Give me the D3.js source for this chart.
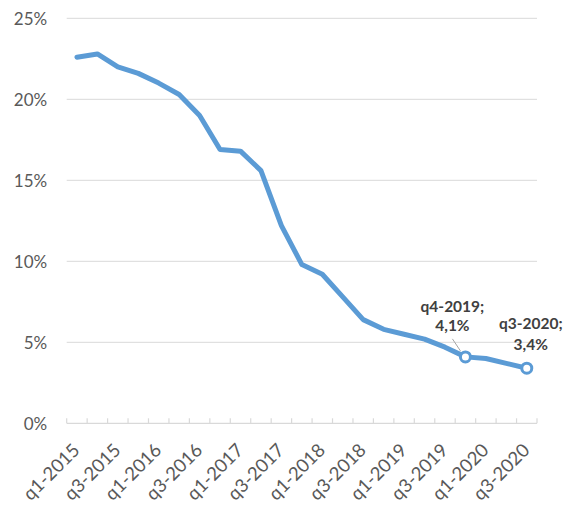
<!DOCTYPE html>
<html>
<head>
<meta charset="utf-8">
<script src="https://cdn.jsdelivr.net/npm/d3@7/dist/d3.min.js"></script>
<style>
  html, body { margin: 0; padding: 0; background: #fff; }
  svg { display: block; }
  text { font-family: Lato, "Open Sans", sans-serif; }
</style>
</head>
<body>
<div id="chart"></div>
<script>
// Quarterly share, q1-2015 .. q3-2020
const quarters = [
  "q1-2015", "q2-2015", "q3-2015", "q4-2015",
  "q1-2016", "q2-2016", "q3-2016", "q4-2016",
  "q1-2017", "q2-2017", "q3-2017", "q4-2017",
  "q1-2018", "q2-2018", "q3-2018", "q4-2018",
  "q1-2019", "q2-2019", "q3-2019", "q4-2019",
  "q1-2020", "q2-2020", "q3-2020"
];
const shares = [
  22.6, 22.8, 22.0, 21.6,
  21.0, 20.3, 19.0, 16.9,
  16.8, 15.6, 12.2, 9.8,
  9.2, 7.8, 6.4, 5.8,
  5.5, 5.2, 4.7, 4.1,
  4.0, 3.7, 3.4
];
const yTicks = [0, 5, 10, 15, 20, 25];
// every other quarter gets a label on the category axis
const xTickLabels = quarters.filter((q, i) => i % 2 === 0);
// highlighted points with a data label
const labelled = ["q4-2019", "q3-2020"];

const W = 571, H = 508;
const plotLeft = 66.7, plotRight = 537, plotTop = 18.3, plotBottom = 423.3;
const blue = "#5b9bd5";

const svg = d3.select("#chart").append("svg")
  .attr("width", W).attr("height", H);

const x = d3.scaleBand().domain(quarters).range([plotLeft, plotRight]).paddingInner(0).paddingOuter(0);
const y = d3.scaleLinear().domain([0, 25]).range([plotBottom, plotTop]);
const cx = q => x(q) + x.bandwidth() / 2;

// horizontal gridlines
svg.append("g").selectAll("line")
  .data(yTicks.filter(t => t > 0))
  .join("line")
  .attr("x1", plotLeft).attr("x2", plotRight)
  .attr("y1", d => y(d)).attr("y2", d => y(d))
  .attr("stroke", "#d9d9d9").attr("stroke-width", 1);

// value axis labels
const yAxis = d3.axisLeft(y).tickValues(yTicks).tickFormat(d => d + "%").tickSize(0).tickPadding(0);
const gy = svg.append("g").attr("transform", `translate(${plotLeft - 19.5},0)`).call(yAxis);
gy.select(".domain").remove();
gy.selectAll("text")
  .attr("font-family", "Lato, 'Open Sans', sans-serif")
  .attr("font-size", 17)
  .attr("fill", "#595959")
  .attr("dy", "0.36em");

// category axis line with inside tick marks at band edges
const gx = svg.append("g");
gx.append("line")
  .attr("x1", plotLeft).attr("x2", plotRight)
  .attr("y1", plotBottom).attr("y2", plotBottom)
  .attr("stroke", "#d9d9d9").attr("stroke-width", 1.2);
const edges = quarters.map(q => x(q)).concat([plotRight]);
gx.selectAll("line.tick")
  .data(edges)
  .join("line")
  .attr("class", "tick")
  .attr("x1", d => d).attr("x2", d => d)
  .attr("y1", plotBottom).attr("y2", plotBottom - 5)
  .attr("stroke", "#d9d9d9").attr("stroke-width", 1.2);

// rotated category labels
gx.selectAll("text")
  .data(xTickLabels)
  .join("text")
  .attr("transform", d => `translate(${cx(d) + 4},${plotBottom + 28}) rotate(-45)`)
  .attr("text-anchor", "end")
  .attr("font-size", 18.5)
  .attr("fill", "#595959")
  .text(d => d);

// the series line
const line = d3.line()
  .x((d, i) => cx(quarters[i]))
  .y(d => y(d));
svg.append("path")
  .datum(shares)
  .attr("d", line)
  .attr("fill", "none")
  .attr("stroke", blue)
  .attr("stroke-width", 5)
  .attr("stroke-linejoin", "round")
  .attr("stroke-linecap", "round");

// markers and data labels for the highlighted quarters
const fmt = v => v.toFixed(1).replace(".", ",") + "%";
const labelOffsets = {
  "q4-2019": { dx: -13, dy1: -45, dy2: -26, leader: true },
  "q3-2020": { dx: 4, dy1: -39, dy2: -18, leader: false }
};

labelled.forEach(q => {
  const i = quarters.indexOf(q);
  const px = cx(q), py = y(shares[i]);
  const o = labelOffsets[q];

  if (o.leader) {
    svg.append("line")
      .attr("x1", px - 13).attr("y1", py - 18)
      .attr("x2", px - 5).attr("y2", py - 6)
      .attr("stroke", "#a6a6a6").attr("stroke-width", 1);
  }

  svg.append("circle")
    .attr("cx", px).attr("cy", py).attr("r", 5)
    .attr("fill", "#fff")
    .attr("stroke", blue).attr("stroke-width", 3);

  const t = svg.append("text")
    .attr("text-anchor", "middle")
    .attr("font-size", 15.5)
    .attr("font-weight", "bold")
    .attr("fill", "#404040");
  t.append("tspan").attr("x", px + o.dx).attr("y", py + o.dy1).text(q + ";");
  t.append("tspan").attr("x", px + o.dx).attr("y", py + o.dy2).text(fmt(shares[i]));
});
</script>
</body>
</html>
